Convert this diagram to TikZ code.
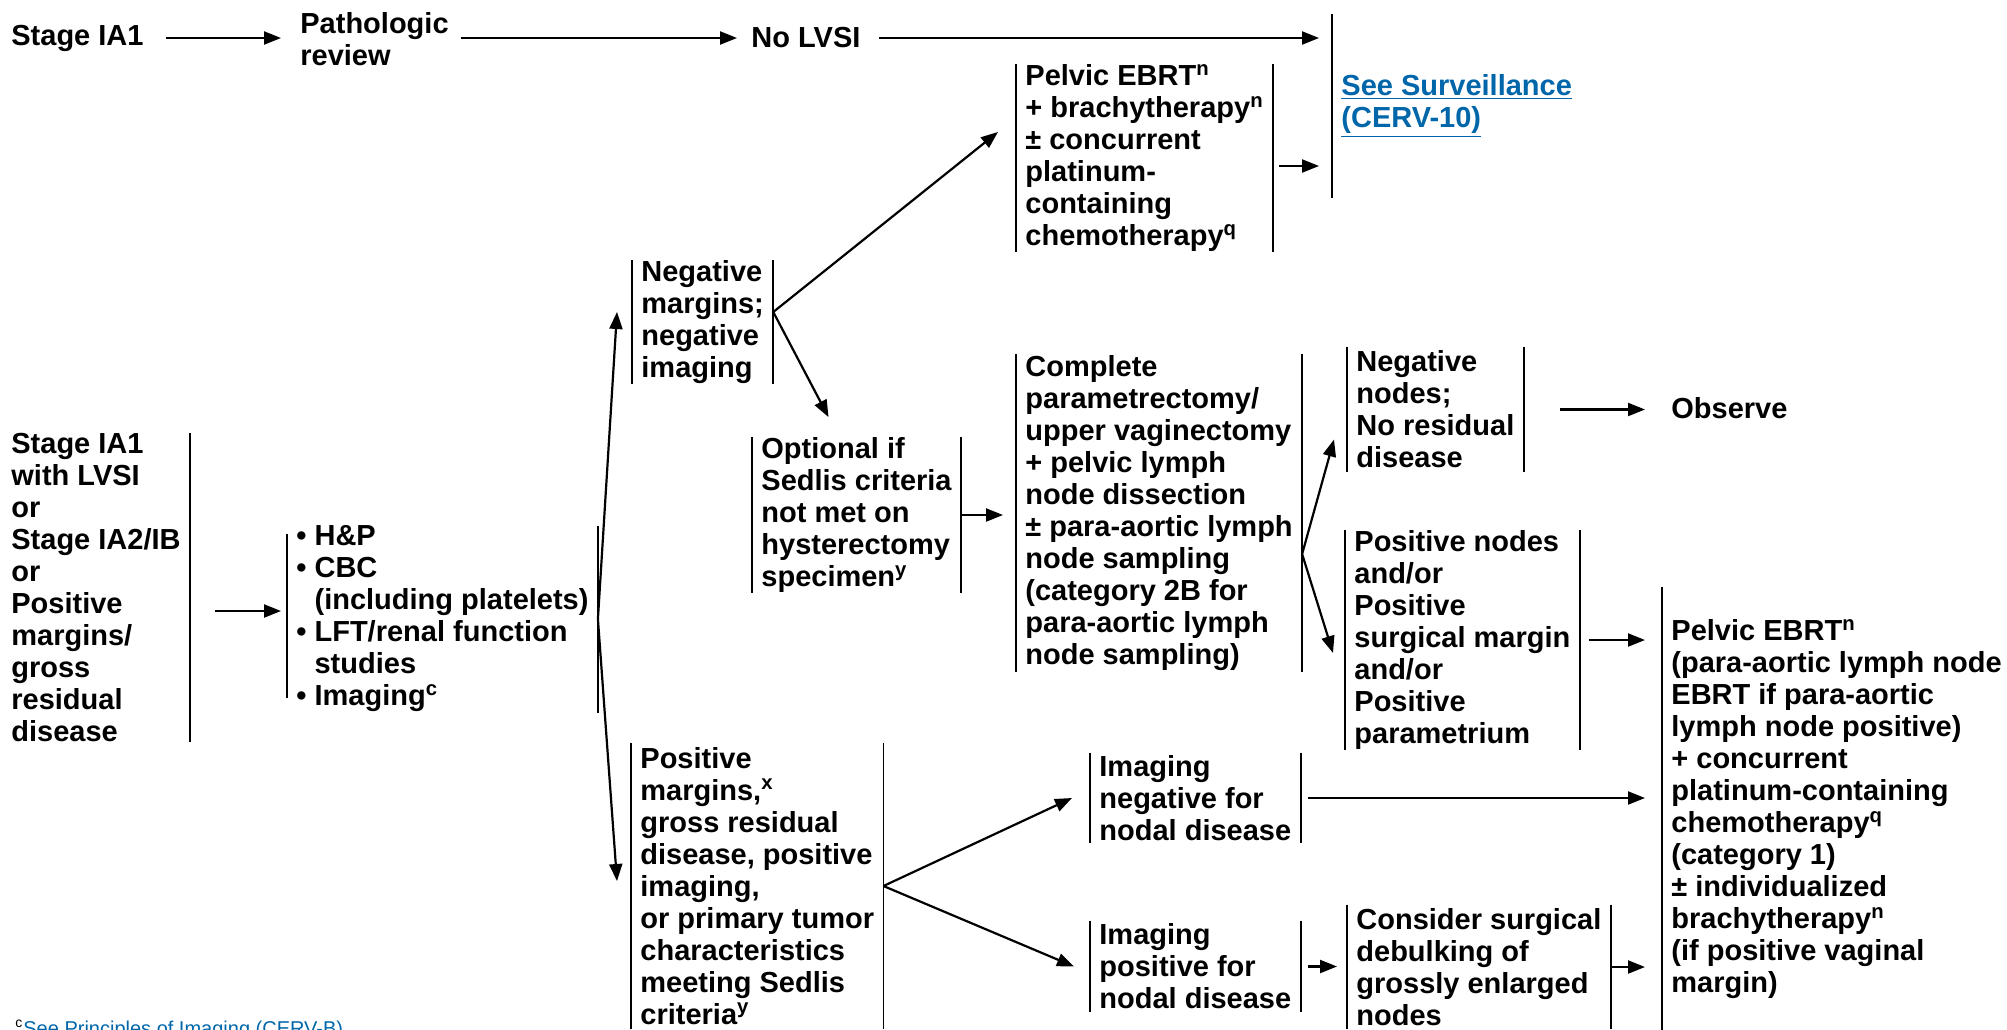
\documentclass[tikz,border=0pt]{standalone}
\usepackage{fontspec}
\setmainfont{Liberation Sans}
\usetikzlibrary{arrows.meta}
\definecolor{linkblue}{RGB}{0,102,170}

\begin{document}
\begin{tikzpicture}[x=0.5pt, y=-0.5pt,
	font=\bfseries\fontsize{14.5}{16}\selectfont,
	box/.style={align=left, anchor=west, inner xsep=4.5pt, inner ysep=0pt},
	bar/.style={line width=0.9pt},
	arr/.style={line width=1.1pt, -{Triangle[length=8.5pt,width=6.5pt]}}]
	\useasboundingbox (0,0) rectangle (2007,1029);

	\node[box] (stage1) at (2,38) {Stage IA1};
	\node[box] (path) at (291,39) {Pathologic\\review};
	\node[box] (nolvsi) at (742,38) {No LVSI};
	\node[box, minimum height=91.5pt, text=linkblue] (surv) at (1332,106) {\underline{See Surveillance}\\\underline{(CERV-10)}};
	\node[box, minimum height=93.5pt] (pelvic) at (1016,158) {Pelvic EBRT\textsuperscript{n}\\+ brachytherapy\textsuperscript{n}\\± concurrent\\platinum-\\containing\\chemotherapy\textsuperscript{q}};

	\node[box, minimum height=154.5pt] (stagebox) at (2,587.5) {Stage IA1\\with LVSI\\or\\Stage IA2/IB\\or\\Positive\\margins/\\gross\\residual\\disease};
	\node[box] (hp) at (287,619) {• H\&P\\• CBC\\\hphantom{•\ }(including platelets)\\• LFT/renal function\\\hphantom{•\ }studies\\• Imaging\textsuperscript{c}};

	\node[box, minimum height=58pt] (negm) at (632,322) {Negative\\margins;\\negative\\imaging};
	\node[box, minimum height=75pt] (opt) at (752,515) {Optional if\\Sedlis criteria\\not met on\\hysterectomy\\specimen\textsuperscript{y}};
	\node[box, minimum height=158.5pt] (cpl) at (1016,513) {Complete\\parametrectomy/\\upper vaginectomy\\+ pelvic lymph\\node dissection\\± para-aortic lymph\\node sampling\\(category 2B for\\para-aortic lymph\\node sampling)};
	\node[box, minimum height=62.5pt] (negn) at (1347,409.5) {Negative\\nodes;\\No residual\\disease};
	\node[box] (observe) at (1662,408) {Observe};
	\node[box, minimum height=105.5pt] (posn) at (1345,640) {Positive nodes\\and/or\\Positive\\surgical margin\\and/or\\Positive\\parametrium};
	\node[box, minimum height=222pt] (big) at (1662,809) {Pelvic EBRT\textsuperscript{n}\\(para-aortic lymph node\\EBRT if para-aortic\\lymph node positive)\\+ concurrent\\platinum-containing\\chemotherapy\textsuperscript{q}\\(category 1)\\± individualized\\brachytherapy\textsuperscript{n}\\(if positive vaginal\\margin)};

	\node[box, minimum height=143pt] (posm) at (631,886) {Positive\\margins,\textsuperscript{x}\\gross residual\\disease, positive\\imaging,\\or primary tumor\\characteristics\\meeting Sedlis\\criteria\textsuperscript{y}};
	\node[box, minimum height=45pt] (imgneg) at (1090,798) {Imaging\\negative for\\nodal disease};
	\node[box, minimum height=45.5pt] (imgpos) at (1090,966.5) {Imaging\\positive for\\nodal disease};
	\node[box, minimum height=62pt] (cons) at (1347,967) {Consider surgical\\debulking of\\grossly enlarged\\nodes};

	\node[anchor=base west, inner sep=0pt, font=\mdseries\fontsize{10}{12}\selectfont, text=linkblue] (fn) at (15,1035) {\textcolor{black}{\textsuperscript{c}}See Principles of Imaging (CERV-B)};

	\foreach \n in {surv, pelvic, negm, opt, cpl, negn, posn, big, posm, imgneg, imgpos, cons}
		\draw[bar] (\n.north west) -- (\n.south west);
	\foreach \n in {pelvic, negm, opt, cpl, negn, posn, stagebox, hp, posm, imgneg, imgpos, cons}
		\draw[bar] (\n.north east) -- (\n.south east);
	\draw[bar] ([yshift=-4.25pt]hp.north west) -- ([yshift=7.25pt]hp.south west);

	\draw[arr, shorten <=6.5pt, shorten >=5pt] (stage1.east) -- (stage1.east -| path.west);
	\draw[arr, shorten <=1.5pt, shorten >=2.5pt] (path.east |- nolvsi.west) -- (nolvsi.west);
	\draw[arr, shorten <=4.5pt, shorten >=6.5pt] (nolvsi.east) -- (nolvsi.east -| surv.west);
	\draw[arr, shorten <=3pt, shorten >=6.5pt] ([yshift=-4pt]pelvic.east) -- ([yshift=-4pt]pelvic.east -| surv.west);

	\draw[arr, shorten <=12.5pt, shorten >=3pt] ([yshift=4pt]stagebox.east |- hp.west) -- ([yshift=4pt]hp.west);
	\draw[arr] (hp.east) -- ([xshift=-7.5pt,yshift=5pt]negm.west);
	\draw[arr] (hp.east) -- ([xshift=-7pt,yshift=2.5pt]posm.west);

	\draw[arr] ([yshift=5pt]negm.east) -- ([xshift=-9pt,yshift=13pt]pelvic.west);
	\draw[arr] ([yshift=5pt]negm.east) -- ([xshift=-14pt,yshift=10pt]opt.north);
	\draw[arr, shorten >=6.5pt] (opt.east) -- (opt.east -| cpl.west);
	\draw[arr] ([yshift=-20.5pt]cpl.east) -- ([xshift=-6.5pt,yshift=-15pt]negn.west);
	\draw[arr] ([yshift=-20.5pt]cpl.east) -- ([xshift=-6pt,yshift=-6.5pt]posn.west);
	\draw[arr, shorten <=18pt, shorten >=8.5pt] (negn.east) -- (negn.east -| observe.west);
	\draw[arr, shorten <=4.5pt, shorten >=8.5pt] (posn.east) -- (posn.east -| big.west);

	\draw[arr] (posm.east) -- ([xshift=-9pt]imgneg.west);
	\draw[arr] (posm.east) -- ([xshift=-8pt]imgpos.west);
	\draw[arr, shorten <=3.5pt, shorten >=8.5pt] (imgneg.east) -- (imgneg.east -| big.west);
	\draw[arr, shorten <=3.5pt, shorten >=5pt] (imgpos.east) -- (imgpos.east -| cons.west);
	\draw[arr, shorten >=8.5pt] (cons.east) -- (cons.east -| big.west);
\end{tikzpicture}
\end{document}
